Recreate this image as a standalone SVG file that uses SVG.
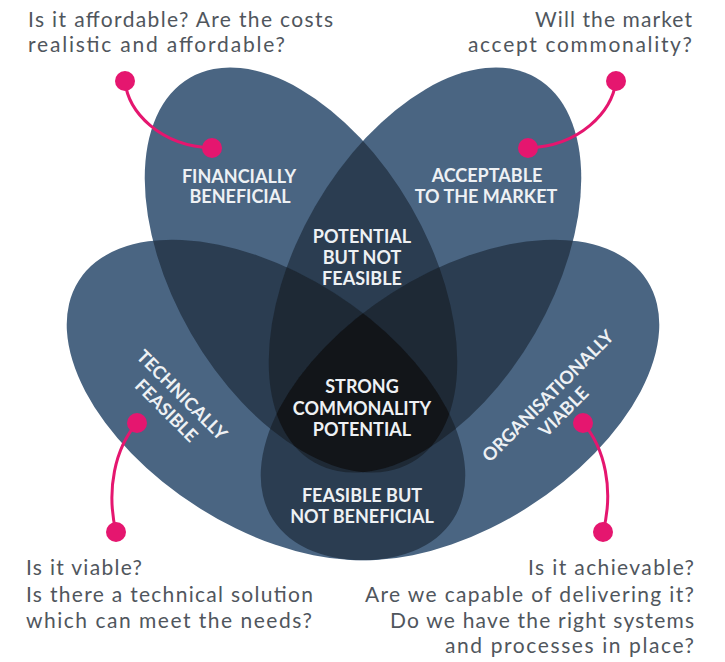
<svg xmlns="http://www.w3.org/2000/svg" xmlns:xlink="http://www.w3.org/1999/xlink" width="725" height="662" viewBox="0 0 725 662">
<style>
.c1{fill:#4a6582}
.c2{fill:#2b3d51}
.c3{fill:#1e2935}
.c4{fill:#121519}
.q{font-family:Lato,"Liberation Sans",sans-serif;font-weight:400;font-size:21px;fill:#50565d}
.lbl{font-family:Lato,"Liberation Sans",sans-serif;font-weight:700;font-size:18px;fill:#eef1f4;text-anchor:middle}
.con{fill:none;stroke:#e5166f;stroke-width:3;stroke-linecap:round}
.dot{fill:#e5166f}
</style>
<defs>
<ellipse id="eFB" cx="301" cy="270" rx="222" ry="127" transform="rotate(60 301 270)"/>
<ellipse id="eAM" cx="425" cy="270" rx="222" ry="127" transform="rotate(-60 425 270)"/>
<ellipse id="eTF" cx="266" cy="400" rx="222" ry="127" transform="rotate(32.5 266 400)"/>
<ellipse id="eOV" cx="460" cy="400" rx="222" ry="127" transform="rotate(-32.5 460 400)"/>
<clipPath id="cFB"><use xlink:href="#eFB"/></clipPath>
<clipPath id="cAM"><use xlink:href="#eAM"/></clipPath>
<clipPath id="cTF"><use xlink:href="#eTF"/></clipPath>
<clipPath id="cOV"><use xlink:href="#eOV"/></clipPath>
</defs>

<g id="petal-financially-beneficial"><use xlink:href="#eFB" class="c1"/></g>
<g id="petal-acceptable-market"><use xlink:href="#eAM" class="c1"/></g>
<g id="petal-technically-feasible"><use xlink:href="#eTF" class="c1"/></g>
<g id="petal-organisationally-viable"><use xlink:href="#eOV" class="c1"/></g>

<g id="overlaps-two">
<g clip-path="url(#cFB)"><use xlink:href="#eAM" class="c2"/></g>
<g clip-path="url(#cFB)"><use xlink:href="#eTF" class="c2"/></g>
<g clip-path="url(#cFB)"><use xlink:href="#eOV" class="c2"/></g>
<g clip-path="url(#cAM)"><use xlink:href="#eTF" class="c2"/></g>
<g clip-path="url(#cAM)"><use xlink:href="#eOV" class="c2"/></g>
<g clip-path="url(#cTF)"><use xlink:href="#eOV" class="c2"/></g>
</g>
<g id="overlaps-three">
<g clip-path="url(#cFB)"><g clip-path="url(#cAM)"><use xlink:href="#eTF" class="c3"/></g></g>
<g clip-path="url(#cFB)"><g clip-path="url(#cAM)"><use xlink:href="#eOV" class="c3"/></g></g>
<g clip-path="url(#cFB)"><g clip-path="url(#cTF)"><use xlink:href="#eOV" class="c3"/></g></g>
<g clip-path="url(#cAM)"><g clip-path="url(#cTF)"><use xlink:href="#eOV" class="c3"/></g></g>
</g>
<g id="overlap-four">
<g clip-path="url(#cFB)"><g clip-path="url(#cAM)"><g clip-path="url(#cTF)"><use xlink:href="#eOV" class="c4"/></g></g></g>
</g>

<g id="label-financially-beneficial" class="lbl">
<text x="239" y="183">FINANCIALLY</text>
<text x="240" y="203">BENEFICIAL</text>
</g>
<g id="label-acceptable-market" class="lbl">
<text x="487" y="182">ACCEPTABLE</text>
<text x="486" y="203">TO THE MARKET</text>
</g>
<g id="label-potential-not-feasible" class="lbl">
<text x="362" y="243">POTENTIAL</text>
<text x="362" y="264">BUT NOT</text>
<text x="362" y="285">FEASIBLE</text>
</g>
<g id="label-strong-commonality" class="lbl">
<text x="362" y="393">STRONG</text>
<text x="362" y="415">COMMONALITY</text>
<text x="362" y="436">POTENTIAL</text>
</g>
<g id="label-feasible-not-beneficial" class="lbl">
<text x="362" y="502">FEASIBLE BUT</text>
<text x="362" y="523">NOT BENEFICIAL</text>
</g>
<g id="label-technically-feasible" class="lbl" transform="translate(174 403) rotate(45)">
<text x="0" y="-5">TECHNICALLY</text>
<text x="0" y="17">FEASIBLE</text>
</g>
<g id="label-organisationally-viable" class="lbl" transform="translate(556 404) rotate(-45)">
<text x="0" y="-5">ORGANISATIONALLY</text>
<text x="0" y="17">VIABLE</text>
</g>

<g id="connectors">
<path class="con" d="M125,81 C128,112 160,146 212,148"/>
<path class="con" d="M616,81 C612,112 580,146 528,148"/>
<path class="con" d="M137,423 C115,448 106,490 116,532"/>
<path class="con" d="M583,423 C605,448 614,490 603,532"/>
<circle class="dot" cx="125" cy="81" r="10"/>
<circle class="dot" cx="212" cy="148" r="10"/>
<circle class="dot" cx="616" cy="81" r="10"/>
<circle class="dot" cx="528" cy="148" r="10"/>
<circle class="dot" cx="137" cy="423" r="10"/>
<circle class="dot" cx="116" cy="532" r="10"/>
<circle class="dot" cx="583" cy="423" r="10"/>
<circle class="dot" cx="603" cy="532" r="10"/>
</g>

<g id="question-financial" class="q">
<text x="28" y="27" textLength="305" lengthAdjust="spacing">Is it affordable? Are the costs</text>
<text x="28" y="52" textLength="257" lengthAdjust="spacing">realistic and affordable?</text>
</g>
<g id="question-market" class="q">
<text x="535" y="27" textLength="157" lengthAdjust="spacing">Will the market</text>
<text x="468" y="52" textLength="224" lengthAdjust="spacing">accept commonality?</text>
</g>
<g id="question-technical" class="q">
<text x="26" y="575" textLength="116" lengthAdjust="spacing">Is it viable?</text>
<text x="26" y="602" textLength="287" lengthAdjust="spacing">Is there a technical solution</text>
<text x="26" y="628" textLength="286" lengthAdjust="spacing">which can meet the needs?</text>
</g>
<g id="question-organisational" class="q">
<text x="528" y="575" textLength="166" lengthAdjust="spacing">Is it achievable?</text>
<text x="365" y="602" textLength="329" lengthAdjust="spacing">Are we capable of delivering it?</text>
<text x="390" y="628" textLength="304" lengthAdjust="spacing">Do we have the right systems</text>
<text x="445" y="653" textLength="249" lengthAdjust="spacing">and processes in place?</text>
</g>
</svg>
